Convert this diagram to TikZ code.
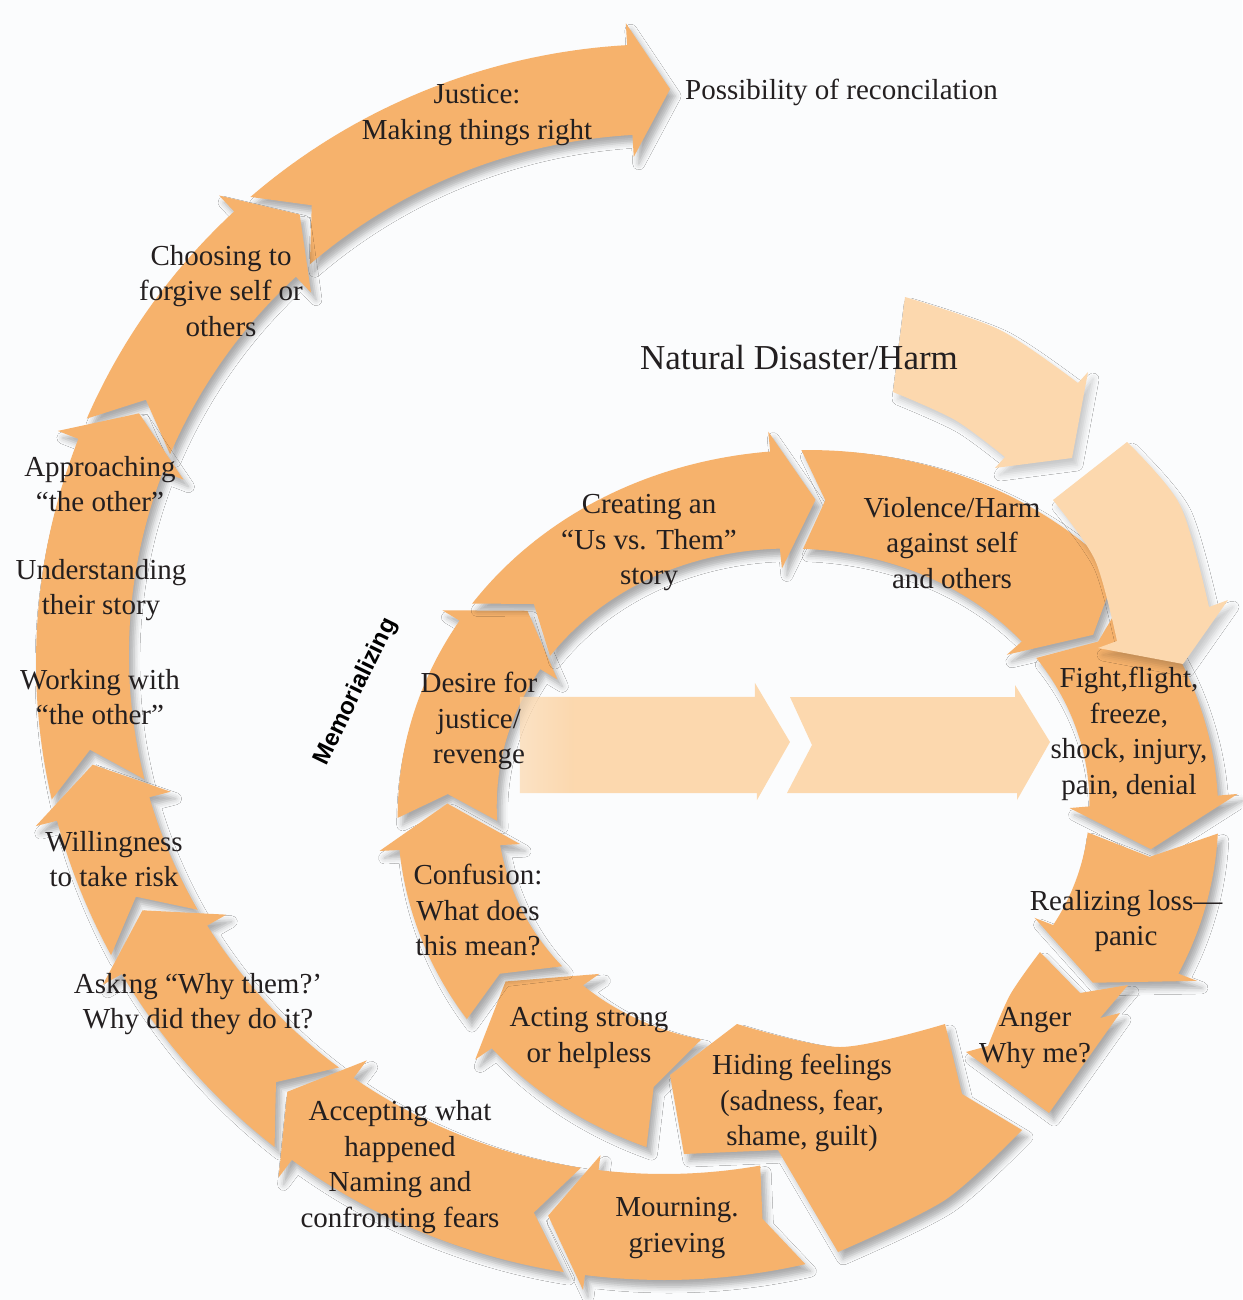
\documentclass[tikz,border=0pt]{standalone}
\usepackage{fontspec}
\setmainfont{Liberation Serif}
\setsansfont{Liberation Sans}
\usetikzlibrary{shadows.blur,fadings}
\definecolor{orA}{RGB}{246,178,108}
\definecolor{orL}{RGB}{252,216,174}
\definecolor{bgc}{RGB}{251,252,253}
\definecolor{txt}{RGB}{35,31,32}

% radius functions: inner ring (A) and outer spiral (B)
\pgfmathdeclarefunction{riA}{1}{\begingroup\pgfmathparse{248+33*sin(#1)+47*cos(#1)*cos(#1)-15*cos(#1)}\pgfmathsmuggle\pgfmathresult\endgroup}
\pgfmathdeclarefunction{roA}{1}{\begingroup\pgfmathparse{362+18*sin(#1)+48*cos(#1)*cos(#1)}\pgfmathsmuggle\pgfmathresult\endgroup}
\pgfmathdeclarefunction{riB}{1}{\begingroup\pgfmathparse{520+12*sin(#1)+15*cos(#1)*cos(#1)}\pgfmathsmuggle\pgfmathresult\endgroup}
\pgfmathdeclarefunction{roB}{1}{\begingroup\pgfmathparse{618+4*sin(#1)+10*cos(#1)*cos(#1)}\pgfmathsmuggle\pgfmathresult\endgroup}

\pgfdeclarehorizontalshading{fadeinshade}{100bp}{color(0bp)=(black); color(35bp)=(white); color(100bp)=(white)}
\pgfdeclarefading{fadein}{\pgfuseshading{fadeinshade}}

\newcommand\tskew{0}
% #1 inner fn, #2 outer fn, #3 tail angle, #4 tip angle, #5 head length (deg), #6 overhang, #7 notch (deg), #8 style
\newcommand{\ringseg}[8]{%
  \pgfmathsetmacro\sgS{(#4>#3) ? 1 : -1}%
  \pgfmathsetmacro\sgB{#4-(\sgS)*(#5)}%
  \pgfmathsetmacro\sgTi{#3+\tskew}%
  \pgfmathsetmacro\sgN{(#3+\sgTi)/2+(\sgS)*(#7)}%
  \pgfmathsetmacro\sgRO{#2(\sgB)+#6}%
  \pgfmathsetmacro\sgRI{#1(\sgB)-#6}%
  \pgfmathsetmacro\sgRP{(#1(#4)+#2(#4))/2}%
  \pgfmathsetmacro\sgRN{(#1(\sgN)+#2(\sgN))/2}%
  \path[#8] plot[domain=#3:\sgB,samples=40] ({\cx+#2(\x)*cos(\x)},{\cy-#2(\x)*sin(\x)})
    -- ({\cx+\sgRO*cos(\sgB)},{\cy-\sgRO*sin(\sgB)})
    -- ({\cx+\sgRP*cos(#4)},{\cy-\sgRP*sin(#4)})
    -- ({\cx+\sgRI*cos(\sgB)},{\cy-\sgRI*sin(\sgB)})
    -- plot[domain=\sgB:\sgTi,samples=40] ({\cx+#1(\x)*cos(\x)},{\cy-#1(\x)*sin(\x)})
    -- ({\cx+\sgRN*cos(\sgN)},{\cy-\sgRN*sin(\sgN)}) -- cycle;
}

\tikzset{
  arr/.style={fill=orA, blur shadow={shadow xshift=5pt, shadow yshift=-7pt, shadow blur radius=6pt, shadow opacity=32}},
  light/.style={fill=orL, blur shadow={shadow xshift=5pt, shadow yshift=-7pt, shadow blur radius=6pt, shadow opacity=20}},
  lbl/.style={font=\fontsize{29}{35.5}\selectfont, align=center, text=txt, inner sep=0pt}
}

\begin{document}
\begin{tikzpicture}[x=1pt,y=-1pt]
\useasboundingbox (0,0) rectangle (1242,1300);
\fill[bgc] (0,0) rectangle (1242,1300);

% ---------- outer spiral ----------
\def\cx{664}\def\cy{666}
\ringseg{riB}{roB}{-228.6}{-270.6}{4}{22}{4}{arr}   % Justice
\ringseg{riB}{roB}{-203.2}{-231.1}{4.5}{22}{4}{arr} % Choosing
\ringseg{riB}{roB}{-167.7}{-205.7}{4.5}{22}{4}{arr} % Working
\ringseg{riB}{roB}{-152.4}{-170.2}{4.5}{22}{4}{arr} % Willingness
\ringseg{riB}{roB}{-129}{-154.9}{4.5}{22}{4}{arr}   % Asking
\ringseg{riB}{roB}{-99.4}{-131.5}{4.5}{22}{4}{arr}  % Accepting
\renewcommand\tskew{-2.4}
\ringseg{riB}{roB}{-76.7}{-101.9}{4.5}{15}{2}{arr}  % Mourning
\renewcommand\tskew{0}

% ---------- inner ring ----------
\def\cx{808}\def\cy{830}
\ringseg{riA}{roA}{178.3}{142}{7}{20}{4}{arr}      % Desire
\ringseg{riA}{roA}{146}{88.7}{7}{20}{5.5}{arr}     % Creating
\ringseg{riA}{roA}{91}{34.4}{7}{20}{4}{arr}        % Violence
\ringseg{riA}{roA}{37}{-3.2}{8}{20}{4}{arr}        % Fight
\ringseg{riA}{roA}{-0.5}{-28.2}{7}{20}{4}{arr}     % Realizing
\ringseg{riA}{roA}{-117}{-153.4}{8}{20}{4}{arr}    % Acting
\ringseg{riA}{roA}{-151}{-184.2}{7}{20}{4}{arr}    % Confusion

% Anger
\path[arr] (1040,952) -- (1080,993) -- (1128,985) -- (1100,1018) -- (1120,1013) -- (1049,1113) -- (966,1052) -- (988,1046)
  -- plot[smooth] coordinates {(988,1046) (1010,995) (1040,952)} -- cycle;
% Hiding feelings (two heads)
\path[arr] (945,1024) -- (962,1094) -- (1022,1130)
  -- plot[smooth] coordinates {(1022,1130) (945,1200) (838,1252)}
  -- (778,1150) -- (684,1154) -- (670,1075) -- (737,1024)
  -- plot[smooth] coordinates {(737,1024) (840,1047) (945,1024)} -- cycle;

% light arrows (Natural Disaster/Harm)
\path[light] (905,297) -- plot[smooth] coordinates {(905,297) (1000,330) (1078,383)} -- (1088,372) -- (1072,458) -- (995,468) -- (1005,457)
  -- plot[smooth] coordinates {(1005,457) (955,420) (893,392)} -- cycle;
\path[light] (1127,442) -- plot[smooth] coordinates {(1127,442) (1180,505) (1209,607)} -- (1228,600) -- (1183,664) -- (1098,648) -- (1117,641)
  -- plot[smooth] coordinates {(1117,641) (1095,560) (1053,500)} -- cycle;

% horizontal light chevrons
\path[fill=orL, path fading=fadein] (520,697) -- (755,697) -- (755,683) -- (790,742) -- (757,800) -- (757,793) -- (520,793) -- cycle;
\path[fill=orL] (790,697) -- (1015,697) -- (1015,685) -- (1050,742) -- (1017,800) -- (1017,793) -- (787,793) -- (812,745) -- cycle;

% ---------- labels ----------
\node[lbl, anchor=west] (poss) at (685,92) {Possibility of reconcilation};
\node[lbl] (just) at (477,115) {Justice:\\Making things right};
\node[lbl] (choo) at (221,291) {Choosing to\\forgive self or\\others};
\node[lbl] (appr) at (100,484) {Approaching\\“the other”};
\node[lbl] (unde) at (101,590) {Understanding\\their story};
\node[lbl] (work) at (100,697) {Working with\\“the other”};
\node[lbl] (will) at (114,859) {Willingness\\to take risk};
\node[lbl] (ask) at (198,1004) {Asking “Why them?’\\Why did they do it?};
\node[lbl] (acc) at (400,1167) {Accepting what\\happened\\Naming and\\confronting fears};
\node[lbl] (mour) at (677,1228) {Mourning.\\grieving};
\node[lbl] (hide) at (802,1103) {Hiding feelings\\(sadness, fear,\\shame, guilt)};
\node[lbl] (act) at (589,1038) {Acting strong\\or helpless};
\node[lbl] (ang) at (1035,1038) {Anger\\Why me?};
\node[lbl] (real) at (1126,921) {Realizing loss—\\panic};
\node[lbl] (fight) at (1129,734) {Fight,flight,\\freeze,\\shock, injury,\\pain, denial};
\node[lbl] (viol) at (952,543) {Violence/Harm\\against self\\and others};
\node[lbl] (crea) at (649,543) {Creating an\\“Us vs. Them”\\story};
\node[lbl] (des) at (479,721) {Desire for\\justice/\\revenge};
\node[lbl] (conf) at (478,910) {Confusion:\\What does\\this mean?};
\node[lbl, font=\fontsize{35}{40}\selectfont] (nat) at (799,358) {Natural Disaster/Harm};
\node[rotate=64, text=black, font=\fontsize{24}{26}\selectfont\sffamily\bfseries, inner sep=0pt] (mem) at (356,692) {Memorializing};
\end{tikzpicture}
\end{document}
